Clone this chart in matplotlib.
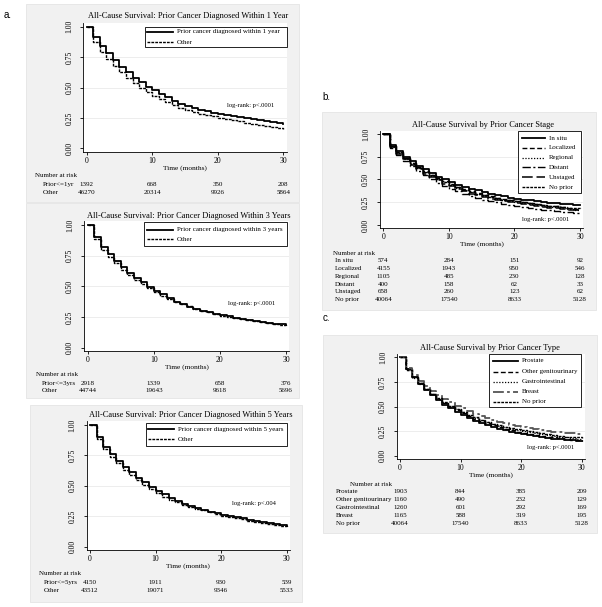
import matplotlib
matplotlib.use("Agg")
import matplotlib.pyplot as plt
from matplotlib.patches import Rectangle
from matplotlib.lines import Line2D
from matplotlib.transforms import blended_transform_factory

W, H = 602, 607

# -------- Data --------
months = list(range(31))
risk_months = [0, 10, 20, 30]

# panel a, prior cancer within 1 year
surv_prior_1yr = [1.000, 0.912, 0.844, 0.781, 0.726, 0.671, 0.625, 0.581, 0.542, 0.507, 0.479,
                  0.447, 0.418, 0.392, 0.368, 0.347, 0.330, 0.316, 0.303, 0.292, 0.282,
                  0.272, 0.263, 0.254, 0.246, 0.238, 0.230, 0.222, 0.214, 0.206, 0.199]
surv_other_1yr = [1.000, 0.877, 0.795, 0.734, 0.680, 0.625, 0.580, 0.540, 0.500, 0.466, 0.433,
                  0.403, 0.378, 0.356, 0.334, 0.315, 0.299, 0.285, 0.274, 0.263, 0.252,
                  0.241, 0.231, 0.221, 0.211, 0.202, 0.193, 0.185, 0.176, 0.168, 0.160]
risk_prior_1yr = [1392, 668, 350, 208]
risk_other_1yr = [46270, 20314, 9926, 5864]

# panel a, prior cancer within 3 years
surv_prior_3yr = [1.000, 0.900, 0.823, 0.761, 0.707, 0.655, 0.611, 0.571, 0.533, 0.497, 0.465,
                  0.435, 0.402, 0.375, 0.353, 0.334, 0.318, 0.303, 0.290, 0.278, 0.267,
                  0.256, 0.246, 0.236, 0.226, 0.218, 0.211, 0.204, 0.197, 0.191, 0.185]
surv_other_3yr = [1.000, 0.883, 0.800, 0.736, 0.687, 0.633, 0.592, 0.552, 0.516, 0.484, 0.451,
                  0.424, 0.397, 0.375, 0.356, 0.337, 0.319, 0.303, 0.289, 0.277, 0.262,
                  0.252, 0.243, 0.234, 0.225, 0.214, 0.206, 0.198, 0.190, 0.182, 0.175]
risk_prior_3yr = [2918, 1339, 658, 376]
risk_other_3yr = [44744, 19643, 9618, 5696]

# panel a, prior cancer within 5 years
surv_prior_5yr = [1.000, 0.899, 0.822, 0.762, 0.707, 0.652, 0.611, 0.567, 0.529, 0.493, 0.460,
                  0.430, 0.397, 0.373, 0.351, 0.334, 0.318, 0.303, 0.289, 0.275, 0.262,
                  0.252, 0.242, 0.232, 0.223, 0.214, 0.206, 0.197, 0.189, 0.181, 0.173]
surv_other_5yr = [1.000, 0.882, 0.803, 0.740, 0.685, 0.630, 0.589, 0.548, 0.507, 0.474, 0.444,
                  0.411, 0.386, 0.364, 0.345, 0.329, 0.313, 0.298, 0.284, 0.267, 0.254,
                  0.244, 0.234, 0.224, 0.214, 0.205, 0.197, 0.188, 0.180, 0.172, 0.164]
risk_prior_5yr = [4150, 1911, 930, 539]
risk_other_5yr = [43512, 19071, 9346, 5533]

# panel b, by prior cancer stage
surv_insitu = [1.000, 0.880, 0.810, 0.750, 0.700, 0.650, 0.610, 0.570, 0.530, 0.500, 0.470,
               0.445, 0.420, 0.400, 0.380, 0.360, 0.345, 0.330, 0.315, 0.300, 0.290,
               0.280, 0.270, 0.260, 0.250, 0.245, 0.240, 0.235, 0.230, 0.225, 0.220]
surv_localized = [1.000, 0.870, 0.800, 0.740, 0.685, 0.635, 0.590, 0.550, 0.515, 0.480, 0.450,
                  0.420, 0.395, 0.370, 0.350, 0.330, 0.315, 0.300, 0.285, 0.270, 0.260,
                  0.250, 0.240, 0.230, 0.220, 0.210, 0.205, 0.195, 0.190, 0.180, 0.175]
surv_regional = [1.000, 0.860, 0.790, 0.730, 0.675, 0.625, 0.580, 0.540, 0.500, 0.470, 0.440,
                 0.410, 0.385, 0.360, 0.340, 0.320, 0.305, 0.290, 0.275, 0.260, 0.250,
                 0.240, 0.230, 0.220, 0.210, 0.200, 0.195, 0.185, 0.180, 0.170, 0.165]
surv_distant = [1.000, 0.850, 0.770, 0.700, 0.645, 0.590, 0.545, 0.500, 0.460, 0.430, 0.400,
                0.370, 0.345, 0.320, 0.300, 0.280, 0.265, 0.250, 0.235, 0.220, 0.210,
                0.200, 0.190, 0.180, 0.170, 0.160, 0.155, 0.145, 0.140, 0.135, 0.130]
surv_unstaged = [1.000, 0.860, 0.780, 0.720, 0.660, 0.610, 0.565, 0.525, 0.490, 0.455, 0.425,
                 0.395, 0.370, 0.345, 0.325, 0.305, 0.290, 0.275, 0.260, 0.250, 0.240,
                 0.230, 0.220, 0.210, 0.200, 0.190, 0.185, 0.175, 0.170, 0.160, 0.155]
surv_noprior = [1.000, 0.870, 0.800, 0.735, 0.680, 0.630, 0.585, 0.545, 0.510, 0.475, 0.445,
                0.415, 0.390, 0.365, 0.345, 0.325, 0.310, 0.295, 0.280, 0.270, 0.260,
                0.250, 0.240, 0.230, 0.220, 0.210, 0.205, 0.195, 0.190, 0.185, 0.180]
risk_insitu = [574, 284, 151, 92]
risk_localized = [4155, 1943, 950, 546]
risk_regional = [1105, 485, 230, 128]
risk_distant = [400, 158, 62, 33]
risk_unstaged = [658, 260, 123, 62]
risk_noprior = [40064, 17540, 8633, 5128]

# panel c, by prior cancer type
surv_prostate = [1.000, 0.880, 0.800, 0.730, 0.670, 0.615, 0.565, 0.520, 0.480, 0.445, 0.410,
                 0.380, 0.355, 0.330, 0.310, 0.290, 0.275, 0.260, 0.245, 0.235, 0.220,
                 0.210, 0.200, 0.190, 0.180, 0.170, 0.165, 0.160, 0.155, 0.150, 0.145]
surv_other_gu = [1.000, 0.880, 0.800, 0.740, 0.680, 0.630, 0.580, 0.540, 0.500, 0.460, 0.430,
                 0.400, 0.375, 0.350, 0.330, 0.310, 0.290, 0.275, 0.260, 0.245, 0.235,
                 0.225, 0.215, 0.205, 0.195, 0.185, 0.175, 0.170, 0.160, 0.155, 0.150]
surv_gi = [1.000, 0.870, 0.790, 0.730, 0.675, 0.625, 0.580, 0.540, 0.505, 0.470, 0.440,
           0.410, 0.385, 0.360, 0.340, 0.320, 0.305, 0.290, 0.275, 0.260, 0.250,
           0.240, 0.230, 0.220, 0.210, 0.200, 0.190, 0.185, 0.180, 0.170, 0.165]
surv_breast = [1.000, 0.890, 0.820, 0.760, 0.710, 0.660, 0.620, 0.580, 0.550, 0.510, 0.480,
               0.450, 0.420, 0.400, 0.380, 0.360, 0.345, 0.330, 0.315, 0.300, 0.290,
               0.280, 0.270, 0.260, 0.250, 0.245, 0.240, 0.235, 0.230, 0.225, 0.220]
risk_prostate = [1903, 844, 385, 209]
risk_other_gu = [1160, 490, 232, 129]
risk_gi = [1260, 601, 292, 169]
risk_breast = [1165, 588, 319, 195]

# -------- Styles --------
SERIF = ["Liberation Serif", "DejaVu Serif"]
BG = "#f1f1f1"
SOLID = dict(ls="-", lw=1.3, color="black")
SHORT = dict(ls=(0, (2.0, 0.8)), lw=1.0, color="black")
DASH = dict(ls=(0, (3.5, 1.8)), lw=1.0, color="black")
DOT = dict(ls=(0, (1.0, 1.3)), lw=0.9, color="black")
DASHDOT = dict(ls=(0, (6, 1.8, 1.5, 1.8)), lw=1.0, color="black")
LONGDASH = dict(ls=(0, (7, 2.5)), lw=1.1, color="black")
BREAST = dict(ls=(0, (6, 1.8, 1.5, 1.8)), lw=1.3, color="#555555")

fig = plt.figure(figsize=(W / 100, H / 100), dpi=100)
plt.rcParams["font.family"] = SERIF


def fx(x):
    return x / W


def fy(y):
    return 1 - y / H


def draw_panel(p):
    # grey graph region
    x0, y0, x1, y1 = p["bg"]
    fig.add_artist(Rectangle((fx(x0), fy(y1)), (x1 - x0) / W, (y1 - y0) / H,
                             transform=fig.transFigure, facecolor=BG, edgecolor="#e4e4e4",
                             lw=0.6, zorder=-5))

    ppm = (p["t30"] - p["t0"]) / 30
    ppu = p["ybot"] - p["ytop"]
    left = p["t0"] - 0.5 * ppm
    right = p["t30"] + 0.5 * ppm
    top = p["ytop"] - 0.03 * ppu
    bottom = p["ybot"] + 0.03 * ppu
    ax = fig.add_axes([fx(left), fy(bottom), (right - left) / W, (bottom - top) / H])
    ax.set_xlim(-0.5, 30.5)
    ax.set_ylim(-0.03, 1.03)
    ax.set_facecolor("white")
    for s in ["top", "right"]:
        ax.spines[s].set_visible(False)
    for s in ["left", "bottom"]:
        ax.spines[s].set_linewidth(0.6)
    ax.set_xticks([0, 10, 20, 30])
    ax.set_yticks([0, 0.25, 0.5, 0.75, 1.0])
    ax.set_yticklabels(["0.00", "0.25", "0.50", "0.75", "1.00"])
    ax.tick_params(axis="both", length=2.2, width=0.6, labelsize=5.5)
    ax.tick_params(axis="x", pad=1.3)
    ax.tick_params(axis="y", pad=8.0)
    plt.setp(ax.get_yticklabels(), rotation=90, va="center", ha="center")
    for g in [0.25, 0.5, 0.75]:
        ax.axhline(g, color="#e6e6e6", lw=0.5, zorder=0)

    for label, vals, style in p["series"]:
        ax.step(months, vals, where="post", clip_on=False, zorder=3, **style)

    # title, axis label, log-rank
    fig.text(fx(p["title_x"]), fy(p["title_y"]), p["title"], fontsize=6.0,
             ha="center", va="center")
    fig.text(fx((p["t0"] + p["t30"]) / 2), fy(p["xlabel_y"]), "Time (months)",
             fontsize=5.3, ha="center", va="center")
    fig.text(fx(p["logrank"][0]), fy(p["logrank"][1]), p["logrank"][2], fontsize=4.7,
             ha="left", va="center")

    # legend
    lx0, ly0, lx1, ly1 = p["leg_box"]
    fig.add_artist(Rectangle((fx(lx0), fy(ly1)), (lx1 - lx0) / W, (ly1 - ly0) / H,
                             transform=fig.transFigure, facecolor="white", edgecolor="black",
                             lw=0.6, zorder=5))
    for (label, vals, style), ry in zip(p["series"], p["leg_rows"]):
        fig.add_artist(Line2D([fx(p["leg_line"][0]), fx(p["leg_line"][1])], [fy(ry), fy(ry)],
                              transform=fig.transFigure, zorder=6, **style))
        fig.text(fx(p["leg_line"][1] + 4), fy(ry), label, fontsize=5.0, ha="left",
                 va="center", zorder=6)

    # number at risk table
    trans = blended_transform_factory(ax.transData, fig.transFigure)
    fig.text(fx(p["risk_head"][0]), fy(p["risk_head"][1]), "Number at risk", fontsize=5.0,
             ha="left", va="center")
    for name, counts, ry in zip(p["risk_names"], p["risk_counts"], p["risk_rows"]):
        fig.text(fx(p["risk_x"]), fy(ry), name, fontsize=5.0, ha="left", va="center")
        for m, c in zip(risk_months, counts):
            ax.text(m, fy(ry), str(c), transform=trans, fontsize=5.0, ha="center",
                    va="center", clip_on=False)
    return ax


panels = [
    dict(bg=(26, 4, 299, 202), t0=86.7, t30=283.3, ytop=26.7, ybot=148.3,
         title="All-Cause Survival: Prior Cancer Diagnosed Within 1 Year", title_x=188, title_y=16,
         xlabel_y=168, logrank=(227, 106, "log-rank: p<.0001"),
         series=[("Prior cancer diagnosed within 1 year", surv_prior_1yr, SOLID),
                 ("Other", surv_other_1yr, SHORT)],
         leg_box=(145, 27, 287, 47), leg_rows=[32, 42], leg_line=(147, 173),
         risk_head=(35, 176), risk_x=43, risk_rows=[184.5, 192.5],
         risk_names=["Prior<=1yr", "Other"], risk_counts=[risk_prior_1yr, risk_other_1yr]),
    dict(bg=(26, 203, 299, 398), t0=87.7, t30=286, ytop=225, ybot=347.7,
         title="All-Cause Survival: Prior Cancer Diagnosed Within 3 Years", title_x=189, title_y=216,
         xlabel_y=367, logrank=(228, 304, "log-rank: p<.0001"),
         series=[("Prior cancer diagnosed within 3 years", surv_prior_3yr, SOLID),
                 ("Other", surv_other_3yr, SHORT)],
         leg_box=(144, 222, 287, 246), leg_rows=[229.5, 239.3], leg_line=(147, 173),
         risk_head=(36.5, 375), risk_x=41.7, risk_rows=[383.3, 390.7],
         risk_names=["Prior<=3yrs", "Other"], risk_counts=[risk_prior_3yr, risk_other_3yr]),
    dict(bg=(30, 405, 302, 602), t0=90, t30=286.7, ytop=425, ybot=546.7,
         title="All-Cause Survival: Prior Cancer Diagnosed Within 5 Years", title_x=191, title_y=415,
         xlabel_y=566, logrank=(232, 504, "log-rank: p<.004"),
         series=[("Prior cancer diagnosed within 5 years", surv_prior_5yr, SOLID),
                 ("Other", surv_other_5yr, SHORT)],
         leg_box=(146, 423, 287, 446), leg_rows=[429.3, 439.3], leg_line=(148, 174),
         risk_head=(39, 573.3), risk_x=44, risk_rows=[582.7, 591],
         risk_names=["Prior<=5yrs", "Other"], risk_counts=[risk_prior_5yr, risk_other_5yr]),
    dict(bg=(322, 112, 596, 310), t0=383.3, t30=580, ytop=134, ybot=225,
         title="All-Cause Survival by Prior Cancer Stage", title_x=483, title_y=125,
         xlabel_y=244, logrank=(522, 219, "log-rank: p<.0001"),
         series=[("In situ", surv_insitu, SOLID), ("Localized", surv_localized, DASH),
                 ("Regional", surv_regional, DOT), ("Distant", surv_distant, DASHDOT),
                 ("Unstaged", surv_unstaged, LONGDASH), ("No prior", surv_noprior, SHORT)],
         leg_box=(518, 131, 581, 193), leg_rows=[138.3, 147.9, 157.6, 167.3, 177.2, 187.2],
         leg_line=(522, 545),
         risk_head=(333, 254), risk_x=335, risk_rows=[261, 268.7, 276.4, 284.1, 291.8, 299.5],
         risk_names=["In situ", "Localized", "Regional", "Distant", "Unstaged", "No prior"],
         risk_counts=[risk_insitu, risk_localized, risk_regional, risk_distant,
                      risk_unstaged, risk_noprior]),
    dict(bg=(323, 335, 597, 533), t0=400, t30=581.7, ytop=357.3, ybot=455.7,
         title="All-Cause Survival by Prior Cancer Type", title_x=490, title_y=348,
         xlabel_y=475, logrank=(527, 448, "log-rank: p<.0001"),
         series=[("Prostate", surv_prostate, SOLID), ("Other genitourinary", surv_other_gu, DASH),
                 ("Gastrointestinal", surv_gi, DOT), ("Breast", surv_breast, BREAST),
                 ("No prior", surv_noprior, SHORT)],
         leg_box=(489, 354, 581, 407), leg_rows=[361, 371.7, 381.7, 391.7, 401.7],
         leg_line=(493, 518),
         risk_head=(350, 484), risk_x=335.7, risk_rows=[491.7, 499.6, 507.5, 515.4, 523.3],
         risk_names=["Prostate", "Other genitourinary", "Gastrointestinal", "Breast", "No prior"],
         risk_counts=[risk_prostate, risk_other_gu, risk_gi, risk_breast, risk_noprior]),
]

for p in panels:
    draw_panel(p)

# panel letters
for letter, x, y in [("a.", 4, 15), ("b.", 322, 97), ("c.", 323, 318)]:
    fig.text(fx(x), fy(y), letter, fontsize=7, family="Liberation Sans", ha="left", va="center")

fig.savefig("out.png", dpi=100, facecolor="white")
